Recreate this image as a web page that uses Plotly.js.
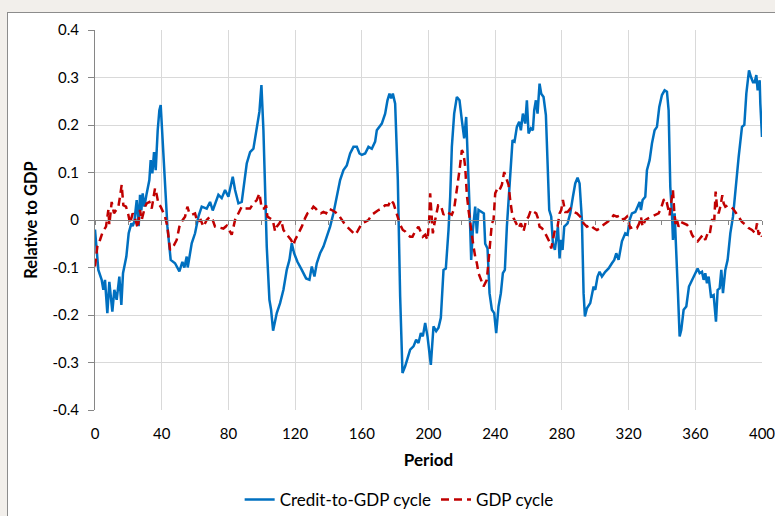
<!DOCTYPE html>
<html>
<head>
<meta charset="utf-8">
<script src="https://cdn.plot.ly/plotly-3.0.1.min.js"></script>
<style>
  html, body { margin: 0; padding: 0; width: 775px; height: 516px; overflow: hidden; background: #f2efeb; }
  #frame { position: absolute; left: 7px; top: 12px; width: 900px; height: 700px; border: 1px solid #8c8c8c; background: #ffffff; }
  #chart { position: absolute; left: 0; top: 0; width: 775px; height: 516px; }
</style>
</head>
<body>
<div id="frame"></div>
<div id="chart"></div>
<script>
const creditPeriod = [0,1,2,4,5,6,7.4,8.6,10.4,11.6,13,14.6,15.8,16.8,18.8,20.2,21.8,22.6,23.6,25,26.2,27,27.8,28.6,29.6,31,32.6,33.4,34.4,35.4,36.4,37.6,38.6,39.4,41.8,43.4,45.4,48,50.6,52.4,53.6,55,55.6,58,60,62,64,67,69,70.6,74,76,78,80,82.6,84,86,88,91,93,95,97,98.6,99.8,101,103,104.6,105.6,106.8,109,111,113,115,116.6,118,119.4,121.4,124,126.6,128.6,130,131.6,133,135,137,139,141,143,145,147,149,151,153,155,157,158.6,160,162,164,166,168,169,172,174,175.4,176.6,177.6,178.6,180,181.6,183,184.4,186,188,189,191,192.6,194,195.4,196.6,198,199.4,201.4,203,204.6,206,207.4,209,210.4,212,213,214,215.4,217,218.6,220,221.4,222.6,223.4,224.6,225.6,226.6,228,229,230,232,233.2,234,235.4,236.6,238,239.4,240.6,242,243.4,244.6,245.8,247,249,250.4,251.6,253,254.4,255.4,256.6,258,259,260,261.4,262.6,263.4,264.4,265.4,266.6,267.6,269,270.4,271.4,272.4,273.6,274.6,275.8,276.8,277.6,278.6,279.4,280.4,281.4,283.4,285,286.6,288,289.4,290.6,292,293,293.8,295,297,299,300,301.4,302.6,304,306,308,310,311.4,312.6,314,316,318,319.4,320.6,322,324,325.4,326.6,327.4,328.4,330,331,332.6,334,335.6,337,338.4,340,341.6,343,344,345,346,346.6,347.6,348.6,349.6,350.6,351.6,353,354.6,356.2,358,360,361.4,362.6,364,365,366,367,368,369.4,371,372.4,373.4,374.6,375.6,376.6,378,379.4,381,382.6,384,386,388,389.4,390.6,392.2,393.4,394.6,395.6,396.6,397.4,398.6,399,400];
const creditValue = [-0.02,-0.07,-0.105,-0.126,-0.147,-0.126,-0.196,-0.13,-0.193,-0.147,-0.168,-0.119,-0.179,-0.112,-0.077,-0.028,-0.007,-0.013,-0.003,0.042,-0.013,0.053,0.02,0.056,0.028,0.056,0.084,0.126,0.098,0.143,0.105,0.189,0.231,0.242,0.084,-0.013,-0.084,-0.091,-0.108,-0.088,-0.1,-0.077,-0.1,-0.049,-0.028,0.007,0.028,0.024,0.038,0.02,0.053,0.046,0.063,0.049,0.091,0.063,0.035,0.038,0.119,0.143,0.15,0.196,0.228,0.284,0.189,-0.056,-0.168,-0.189,-0.233,-0.196,-0.175,-0.147,-0.105,-0.084,-0.049,-0.07,-0.088,-0.105,-0.123,-0.126,-0.098,-0.119,-0.091,-0.07,-0.056,-0.035,-0.014,0.014,0.049,0.084,0.105,0.115,0.14,0.154,0.154,0.14,0.137,0.14,0.154,0.15,0.165,0.189,0.203,0.224,0.252,0.266,0.256,0.266,0.245,0.084,-0.161,-0.322,-0.308,-0.287,-0.273,-0.266,-0.252,-0.259,-0.238,-0.245,-0.217,-0.245,-0.305,-0.224,-0.234,-0.227,-0.206,-0.105,-0.102,-0.021,0.049,0.154,0.224,0.259,0.252,0.21,0.172,0.217,0.154,0.028,-0.084,-0.021,0.028,-0.028,0.021,0.017,0.014,-0.05,-0.06,-0.154,-0.189,-0.196,-0.238,-0.182,-0.154,-0.112,-0.105,-0.014,0.084,0.168,0.165,0.196,0.207,0.189,0.224,0.203,0.252,0.182,0.193,0.189,0.231,0.252,0.224,0.287,0.266,0.259,0.221,0.126,0.021,0.007,-0.049,-0.063,-0.028,-0.014,-0.081,-0.042,-0.063,-0.014,-0.007,0.014,0.049,0.077,0.089,0.077,0.0,-0.154,-0.203,-0.186,-0.175,-0.14,-0.147,-0.119,-0.109,-0.119,-0.109,-0.102,-0.091,-0.084,-0.07,-0.084,-0.045,-0.028,-0.031,0.0,0.014,0.017,0.028,0.038,0.021,0.042,0.049,0.105,0.126,0.161,0.189,0.196,0.238,0.263,0.273,0.27,0.231,0.07,0.014,-0.042,0.014,-0.056,-0.154,-0.245,-0.231,-0.189,-0.182,-0.14,-0.126,-0.112,-0.102,-0.112,-0.109,-0.126,-0.112,-0.133,-0.119,-0.161,-0.158,-0.214,-0.147,-0.144,-0.105,-0.154,-0.105,-0.084,-0.028,0.007,0.063,0.133,0.196,0.2,0.266,0.315,0.301,0.29,0.29,0.305,0.273,0.294,0.245,0.175];

const gdpPeriod = [0,1.4,3,4.6,6.6,8,8.6,10,11.4,12.6,14,15,16,17,18.6,20,21,22.6,24,25.6,27,28,29,30,31,32.6,34,35,36,37,38,39.4,40.6,42,43.4,44.4,45,46,47.4,49,50.6,52.6,54,55.4,56.6,58,60,61.4,63.4,65,67,69,70.6,72,75,77,79,82,84,86,88,90,93,95,97,98.6,100,101.4,102.6,103.4,105,106.6,108,109,110.6,111.6,113,114.4,116,117.6,119,120,122,124,126,127.4,129,131,132.4,134,135.4,137,138.6,140,142,144,146,148,150,152,154,156,157.4,159,160,162,164,166,168,170,172,174,176,177.4,179,180,181.4,183,184.6,186,187.4,189,190.4,192,194,195.4,196.6,198,199.4,200.4,201,201.8,202.6,203.6,204.6,205.8,207.4,209,210.6,212.2,214,215.4,216.6,217.6,218.6,220,221,222,223,224,225,226,227,228,229,230,231.4,233,235,236,237,238,239,240,241.4,242.6,244,245.4,246.6,248,249,250,251,252.6,254,255.4,257,258.6,260,261.4,263,264.6,265.6,266.6,268,269.4,271,272.4,273.6,274.6,276,277.4,278.6,279.6,280.6,282,283.4,285,287,289,291,293,295,297,299,301,303,305,307,309,311,313,315,317,319,321,323,325,326.4,327.4,328.4,330,332,334,336,338,339.4,341,342.4,343.6,344.6,345.6,346.6,347.4,348.2,349,350,351.4,353,355,356.6,358,360,361.4,363,364.6,366,367.4,368.6,370,371.4,372.2,373,374,375,376.2,377,378,379.4,381,382.6,384,386,388,390,392,394,396,397,398,399,400];
const gdpValue = [-0.098,-0.056,-0.042,-0.025,-0.014,0.021,-0.01,0.038,0.014,0.021,0.028,0.049,0.074,0.031,0.028,0.011,-0.007,0.014,0.004,-0.017,0.021,0.0,0.014,0.028,0.035,0.038,0.024,0.045,0.067,0.053,0.035,0.028,0.018,0.007,-0.014,-0.042,-0.063,-0.06,-0.053,-0.042,-0.014,0.0,0.007,0.028,0.014,0.011,0.014,-0.004,0.0,-0.014,0.0,0.007,0.0,-0.014,-0.017,-0.018,-0.012,-0.031,0.0,0.014,0.028,0.024,0.024,0.035,0.042,0.056,0.024,0.024,0.031,0.007,0.004,0.0,-0.024,-0.014,-0.007,0.0,-0.021,-0.028,-0.035,-0.042,-0.053,-0.042,-0.028,-0.014,0.004,0.014,0.017,0.028,0.024,0.017,0.014,0.017,0.014,0.024,0.021,0.017,0.011,0.0,-0.01,-0.017,-0.024,-0.031,-0.024,-0.014,-0.007,-0.004,0.0,0.011,0.017,0.021,0.024,0.031,0.031,0.042,0.035,0.024,0.007,-0.01,-0.021,-0.024,-0.031,-0.035,-0.035,-0.024,-0.014,-0.024,-0.035,-0.031,-0.042,0.0,0.056,0.014,-0.028,-0.007,0.014,0.031,0.031,0.011,0.017,0.014,0.011,0.024,0.053,0.077,0.105,0.147,0.14,0.112,0.053,0.021,-0.007,-0.035,-0.056,-0.077,-0.091,-0.112,-0.125,-0.14,-0.126,-0.084,-0.042,-0.007,0.0,0.056,0.067,0.063,0.074,0.101,0.088,0.074,0.042,0.017,0.004,-0.007,-0.017,-0.007,-0.024,0.0,0.007,0.021,0.017,0.014,0.004,-0.014,-0.017,-0.024,-0.035,-0.045,-0.06,-0.042,-0.017,-0.014,0.014,0.021,0.042,0.017,0.017,0.024,0.017,0.014,0.007,-0.007,-0.014,-0.01,-0.017,-0.021,-0.017,-0.01,-0.004,0.0,0.01,0.007,0.01,0.0,0.007,-0.017,-0.014,-0.017,-0.007,0.007,-0.014,0.0,0.004,0.007,0.01,0.014,0.024,0.042,0.045,0.028,0.01,0.038,0.063,0.017,-0.01,0.0,-0.014,-0.004,-0.007,-0.01,-0.017,-0.031,-0.042,-0.045,-0.038,-0.031,-0.042,-0.028,-0.031,0.0,0.0,0.06,0.028,0.014,0.028,0.052,0.035,0.028,0.031,0.028,0.024,0.017,0.007,-0.004,-0.01,-0.017,-0.021,-0.028,-0.007,-0.031,-0.024,-0.035];

const xTickVals = [0,40,80,120,160,200,240,280,320,360,400];
const yTickVals = [-0.4,-0.3,-0.2,-0.1,0,0.1,0.2,0.3,0.4];
const yTickText = ['-0.4','-0.3','-0.2','-0.1','0','0.1','0.2','0.3','0.4'];

const FONT = 'Lato, "Open Sans", sans-serif';

const traces = [
  {
    x: creditPeriod, y: creditValue, type: 'scatter', mode: 'lines',
    name: 'Credit-to-GDP cycle',
    line: { color: '#0070c0', width: 2.5 }
  },
  {
    x: gdpPeriod, y: gdpValue, type: 'scatter', mode: 'lines',
    name: 'GDP cycle',
    line: { color: '#c00000', width: 2.5, dash: '8px,5px' }
  },
  {
    x: [], y: [], xaxis: 'x2', type: 'scatter', mode: 'lines',
    showlegend: false, hoverinfo: 'skip'
  }
];

const layout = {
  width: 775, height: 516,
  margin: { l: 95, r: 13, t: 30, b: 106, autoexpand: false },
  paper_bgcolor: 'rgba(0,0,0,0)',
  plot_bgcolor: '#ffffff',
  font: { family: FONT, size: 15, color: '#000000' },
  showlegend: true,
  legend: {
    orientation: 'h', x: 0.456, xanchor: 'center', y: -0.237, yanchor: 'middle',
    font: { family: FONT, size: 17, color: '#000000' },
    itemwidth: 30, bgcolor: 'rgba(0,0,0,0)'
  },
  xaxis: {
    range: [0, 400], tickvals: xTickVals, ticktext: xTickVals.map(String),
    showgrid: true, gridcolor: '#d9d9d9', gridwidth: 1,
    zeroline: false, showline: false, ticks: '', automargin: false,
    ticklabelstandoff: 13, ticklabeloverflow: 'allow',
    tickfont: { family: FONT, size: 15 },
    title: { text: '<b>Period</b>', font: { family: FONT, size: 17 }, standoff: 13 }
  },
  xaxis2: {
    overlaying: 'x', anchor: 'free', position: 0.5, side: 'bottom',
    range: [0, 400], dtick: 20, tick0: 0, automargin: false,
    showgrid: false, zeroline: false, showticklabels: false,
    showline: true, linecolor: '#868686', linewidth: 1,
    ticks: 'outside', ticklen: 4, tickcolor: '#868686', tickwidth: 1
  },
  yaxis: {
    range: [-0.4, 0.4], tickvals: yTickVals, ticktext: yTickText,
    showgrid: true, gridcolor: '#d9d9d9', gridwidth: 1,
    zeroline: true, zerolinecolor: '#868686', zerolinewidth: 1,
    showline: true, linecolor: '#868686', linewidth: 1, automargin: false,
    ticks: 'outside', ticklen: 6, tickcolor: '#868686', tickwidth: 1,
    ticklabelstandoff: 6,
    tickfont: { family: FONT, size: 15 },
    title: { text: '<b>Relative to GDP</b>', font: { family: FONT, size: 16.5 }, standoff: 10 }
  }
};

Plotly.newPlot('chart', traces, layout, { displayModeBar: false, staticPlot: true });
</script>
</body>
</html>
